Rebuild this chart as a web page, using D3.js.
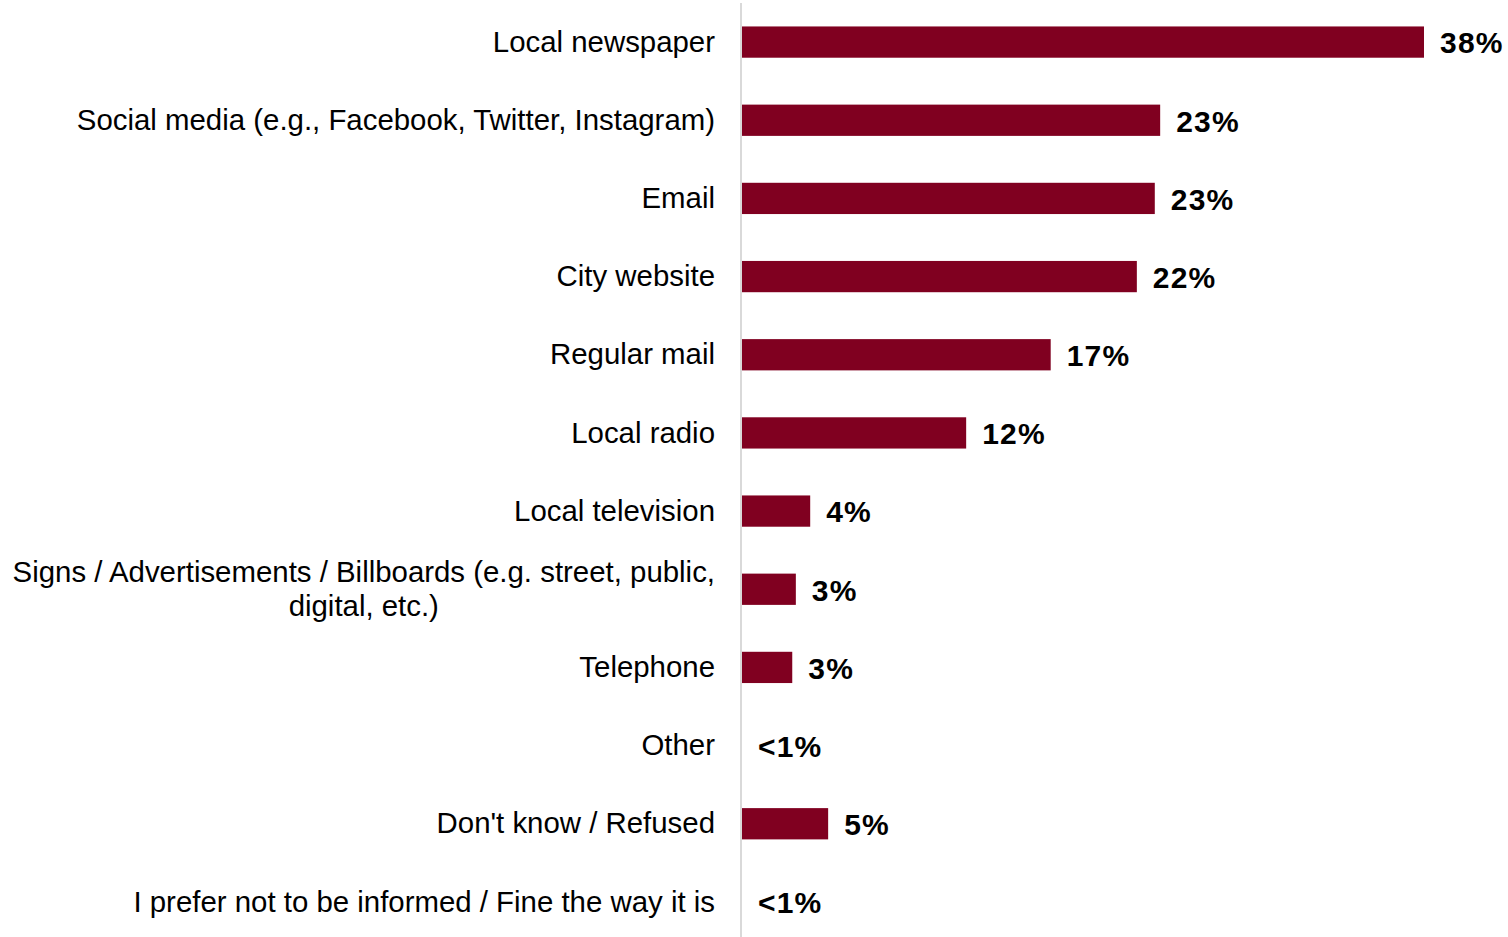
<!DOCTYPE html>
<html>
<head>
<meta charset="utf-8">
<script src="https://cdn.jsdelivr.net/npm/d3@7/dist/d3.min.js"></script>
<style>
  html, body { margin: 0; padding: 0; background: #fff; }
  svg { display: block; font-family: "Liberation Sans", Arial, sans-serif; }
</style>
</head>
<body>
<svg id="chart" width="1508" height="937"></svg>
<script>
// Information sources (share of respondents, %)
const categories = [
  "Local newspaper",
  "Social media (e.g., Facebook, Twitter, Instagram)",
  "Email",
  "City website",
  "Regular mail",
  "Local radio",
  "Local television",
  "Signs / Advertisements / Billboards (e.g. street, public,\ndigital, etc.)",
  "Telephone",
  "Other",
  "Don't know / Refused",
  "I prefer not to be informed / Fine the way it is"
];
const values = [38, 23.3, 23, 22, 17.2, 12.49, 3.8, 3.0, 2.8, 0, 4.8, 0];
const valueLabels = values.map(v => v < 1 ? "<1%" : Math.round(v) + "%");

const svg = d3.select("#chart");
const width = 1508, height = 937;
const axisX = 742;
const margin = { top: 3, bottom: -4 };

const x = d3.scaleLinear().domain([0, 38]).range([axisX, 1424]);
const y = d3.scaleBand()
  .domain(categories)
  .range([margin.top, height - margin.bottom])
  .paddingInner(0.6)
  .paddingOuter(0.3);

// Bars
svg.append("g")
  .selectAll("rect")
  .data(values)
  .join("rect")
  .attr("x", x(0))
  .attr("y", (d, i) => y(categories[i]))
  .attr("width", d => x(d) - x(0))
  .attr("height", y.bandwidth())
  .attr("fill", "#800020");

// Vertical baseline
svg.append("line")
  .attr("x1", axisX - 1).attr("x2", axisX - 1)
  .attr("y1", 3).attr("y2", height)
  .attr("stroke", "#d9d9d9")
  .attr("stroke-width", 2);

// Category labels (right aligned; wrapped lines centred within the block)
const labelRight = 715;
const fs = 29.4;
const lineH = 34;
const labels = svg.append("g").attr("font-size", fs).attr("fill", "#000");
categories.forEach(c => {
  const lines = c.split("\n");
  const cy = y(c) + y.bandwidth() / 2;
  const t = labels.append("text");
  lines.forEach((ln, j) => {
    t.append("tspan")
      .attr("y", cy + (j - (lines.length - 1) / 2) * lineH)
      .attr("dy", "0.33em")
      .text(ln);
  });
  if (lines.length === 1) {
    t.attr("text-anchor", "end").selectAll("tspan").attr("x", labelRight);
  } else {
    const spans = t.selectAll("tspan").nodes();
    const w = d3.max(spans, s => s.getComputedTextLength());
    t.attr("text-anchor", "middle").selectAll("tspan").attr("x", labelRight - w / 2);
  }
});

// Value labels
svg.append("g")
  .attr("font-size", 30)
  .attr("font-weight", "bold")
  .attr("letter-spacing", "1.2px")
  .selectAll("text")
  .data(values)
  .join("text")
  .attr("x", d => x(d) + 16)
  .attr("y", (d, i) => y(categories[i]) + y.bandwidth() / 2)
  .attr("dy", "0.38em")
  .text((d, i) => valueLabels[i]);
</script>
</body>
</html>
